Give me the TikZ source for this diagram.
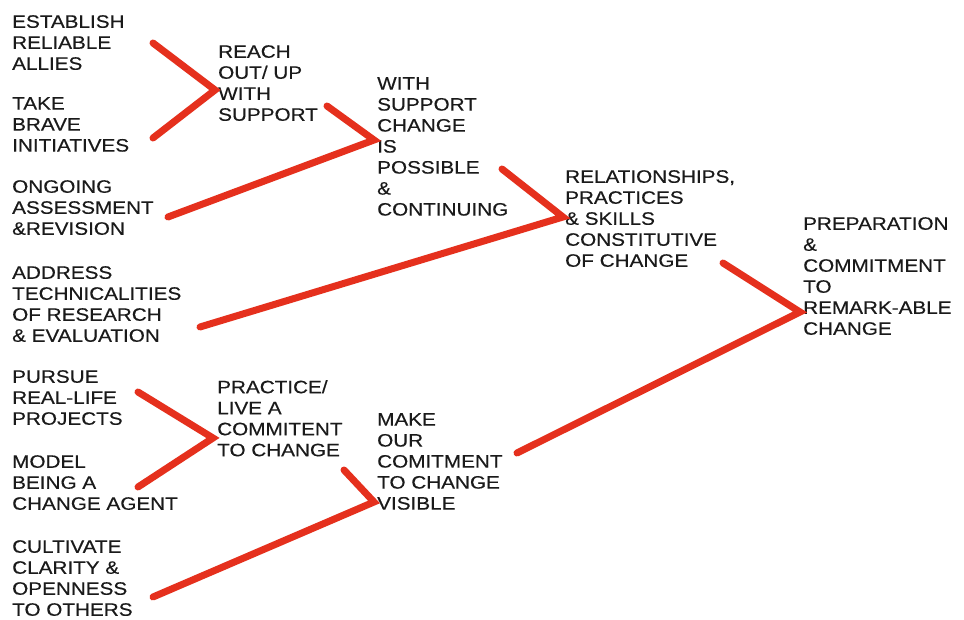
\documentclass[tikz,border=0pt]{standalone}
\usepackage{fontspec}
\setmainfont[FakeStretch=1.15,FakeBold=0.35]{Liberation Sans}
\definecolor{branchred}{HTML}{E5301D}
\definecolor{inkgray}{HTML}{1A1A1A}
\tikzset{
  idea/.style={anchor=north west, align=left, inner sep=0pt, text=inkgray,
    font=\fontsize{18}{21}\selectfont},
  branch/.style={draw=branchred, line width=7pt, line cap=round, line join=miter}
}
\begin{document}
\begin{tikzpicture}[x=1pt, y=-1pt]
    \useasboundingbox[fill=white] (0,0) rectangle (964,620);
    %left column
    \node[idea] (establish) at (12,15) {ESTABLISH\\RELIABLE\\ALLIES};
    \node[idea] (take) at (12,97) {TAKE\\BRAVE\\INITIATIVES};
    \node[idea] (ongoing) at (12,180) {ONGOING\\ASSESSMENT\\\&REVISION};
    \node[idea] (address) at (12,266) {ADDRESS\\TECHNICALITIES\\OF RESEARCH\\\& EVALUATION};
    \node[idea] (pursue) at (12,370) {PURSUE\\REAL-LIFE\\PROJECTS};
    \node[idea] (model) at (12,455) {MODEL\\BEING A\\CHANGE AGENT};
    \node[idea] (cultivate) at (12,540) {CULTIVATE\\CLARITY \&\\OPENNESS\\TO OTHERS};
    %middle columns
    \node[idea] (reach) at (218,45) {REACH\\OUT/ UP\\WITH\\SUPPORT};
    \node[idea] (practice) at (217,380) {PRACTICE/\\LIVE A\\COMMITENT\\TO CHANGE};
    \node[idea] (possible) at (377,77) {WITH\\SUPPORT\\CHANGE\\IS\\POSSIBLE\\\&\\CONTINUING};
    \node[idea] (visible) at (377,413) {MAKE\\OUR\\COMITMENT\\TO CHANGE\\VISIBLE};
    \node[idea] (relations) at (565,170) {RELATIONSHIPS,\\PRACTICES\\\& SKILLS\\CONSTITUTIVE\\OF CHANGE};
    \node[idea] (preparation) at (803,217) {PREPARATION\\\&\\COMMITMENT\\TO\\REMARK-ABLE\\CHANGE};
    %line ends next to the texts
    \coordinate (establish-out) at (153,43);
    \coordinate (take-out) at (153,138);
    \coordinate (reach-in) at (215,90);
    \coordinate (reach-out) at (327,106);
    \coordinate (ongoing-out) at (168,217);
    \coordinate (possible-in) at (374,140);
    \coordinate (possible-out) at (502,169);
    \coordinate (address-out) at (200,327);
    \coordinate (relations-in) at (563,217);
    \coordinate (relations-out) at (723,263);
    \coordinate (pursue-out) at (138,392);
    \coordinate (model-out) at (138,487);
    \coordinate (practice-in) at (213,438);
    \coordinate (practice-out) at (344,470);
    \coordinate (cultivate-out) at (153,597);
    \coordinate (visible-in) at (374,502);
    \coordinate (visible-out) at (517,453);
    \coordinate (preparation-in) at (800,312);
    %the red branches
    \draw[branch] (establish-out) -- (reach-in) -- (take-out);
    \draw[branch] (reach-out) -- (possible-in) -- (ongoing-out);
    \draw[branch] (possible-out) -- (relations-in) -- (address-out);
    \draw[branch] (pursue-out) -- (practice-in) -- (model-out);
    \draw[branch] (practice-out) -- (visible-in) -- (cultivate-out);
    \draw[branch] (relations-out) -- (preparation-in) -- (visible-out);
\end{tikzpicture}
\end{document}
